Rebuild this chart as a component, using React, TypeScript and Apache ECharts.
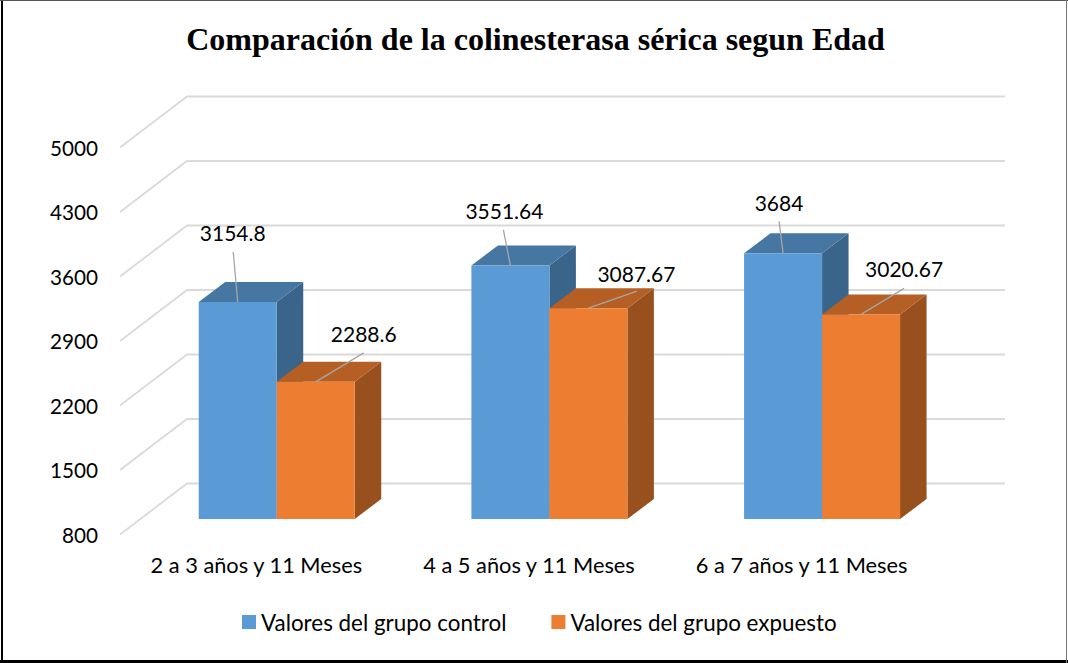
import React, { useEffect, useRef } from "react";
import * as echarts from "echarts";

const titleText = "Comparación de la colinesterasa sérica segun Edad";
const categories = ["2 a 3 años y 11 Meses", "4 a 5 años y 11 Meses", "6 a 7 años y 11 Meses"];
const controlName = "Valores del grupo control";
const exposedName = "Valores del grupo expuesto";
const controlValues = [3154.8, 3551.64, 3684];
const exposedValues = [2288.6, 3087.67, 3020.67];
const yTicks = [800, 1500, 2200, 2900, 3600, 4300, 5000];

// Label placement relative to the top centre of each bar's front face: [labelDx, labelDy, leaderDx, leaderDy]
const controlLabelOffsets = [
  [-5, -69.5, -4.5, -50],
  [-6, -55, -7, -35.5],
  [-4, -50.5, -4, -32],
];
const exposedLabelOffsets = [
  [48, -48.5, 48, -29],
  [48, -34.5, 48.5, -17],
  [43, -46, 43, -26],
];

const FONT = "Lato, 'Open Sans', sans-serif";
const WALL_DX = 67;
const WALL_DY = -51;
const BAR_SHIFT_X = 20.4;
const BAR_SHIFT_Y = -15.5;
const BAR_W = 78;
const DEPTH_X = 26.5;
const DEPTH_Y = -20;

function gridRender(params: any, api: any) {
  const cs = params.coordSys;
  const y = api.coord([0, api.value(1)])[1];
  return {
    type: "polyline",
    shape: {
      points: [
        [cs.x, y],
        [cs.x + WALL_DX, y + WALL_DY],
        [cs.x + cs.width + WALL_DX, y + WALL_DY],
      ],
    },
    style: { stroke: "#DADADA", lineWidth: 1.8, fill: "none" },
    silent: true,
  };
}

function barRender(side: -1 | 1, colors: string[], offsets: number[][]) {
  return (params: any, api: any) => {
    const i = api.value(0);
    const v = api.value(1);
    const [cx, ty] = api.coord([i, v]);
    const by = api.coord([i, 800])[1];
    const x0 = cx + BAR_SHIFT_X + (side < 0 ? -BAR_W : 0);
    const x1 = x0 + BAR_W;
    const top = ty + BAR_SHIFT_Y;
    const bot = by + BAR_SHIFT_Y;
    const mid = (x0 + x1) / 2;
    const o = offsets[params.dataIndex];
    return {
      type: "group",
      children: [
        {
          type: "polygon",
          shape: { points: [[x1, top], [x1 + DEPTH_X, top + DEPTH_Y], [x1 + DEPTH_X, bot + DEPTH_Y], [x1, bot]] },
          style: { fill: colors[2] },
        },
        {
          type: "polygon",
          shape: { points: [[x0, top], [x0 + DEPTH_X, top + DEPTH_Y], [x1 + DEPTH_X, top + DEPTH_Y], [x1, top]] },
          style: { fill: colors[1] },
        },
        { type: "rect", shape: { x: x0, y: top, width: BAR_W, height: bot - top }, style: { fill: colors[0] } },
        {
          type: "line",
          shape: { x1: mid + o[2], y1: top + o[3], x2: mid, y2: top },
          style: { stroke: "#A6A6A6", lineWidth: 1.3 },
        },
        {
          type: "text",
          style: {
            text: String(v),
            x: mid + o[0],
            y: top + o[1],
            align: "center",
            verticalAlign: "middle",
            fontFamily: FONT,
            fontSize: 21,
            fill: "#000000",
          },
        },
      ],
    };
  };
}

export default function App() {
  const ref = useRef<HTMLDivElement>(null);
  useEffect(() => {
    document.body.style.margin = "0";
    const chart = echarts.init(ref.current!, null, { renderer: "svg" });
    chart.setOption({
      animation: false,
      backgroundColor: "#FFFFFF",
      title: {
        text: titleText,
        left: 535.5,
        top: 23,
        padding: 0,
        textAlign: "center",
        textStyle: { fontFamily: "'Liberation Serif', serif", fontSize: 32, fontWeight: "bold", color: "#000000" },
      },
      grid: { left: 120, top: 147.5, width: 818, height: 387 },
      xAxis: {
        type: "category",
        data: categories,
        axisLine: { show: false },
        axisTick: { show: false },
        axisLabel: {
          fontFamily: FONT,
          fontSize: 21.8,
          color: "#000000",
          margin: 19,
          interval: 0,
          hideOverlap: false,
        },
      },
      yAxis: {
        type: "value",
        min: 800,
        max: 5000,
        interval: 700,
        axisLine: { show: false },
        axisTick: { show: false },
        splitLine: { show: false },
        axisLabel: {
          fontFamily: FONT,
          fontSize: 20.7,
          color: "#000000",
          margin: 22,
          formatter: (v: number) => String(v),
        },
      },
      legend: {
        left: 242,
        top: 611,
        padding: 0,
        itemWidth: 14,
        itemHeight: 14,
        itemGap: 45,
        icon: "rect",
        data: [controlName, exposedName],
        textStyle: { fontFamily: FONT, fontSize: 22.4, color: "#000000" },
      },
      graphic: [
        { type: "rect", shape: { x: 1, y: 0, width: 2, height: 663 }, style: { fill: "#000000" } },
        { type: "rect", shape: { x: 0, y: 660, width: 1068, height: 3 }, style: { fill: "#000000" } },
        { type: "rect", shape: { x: 0, y: 0, width: 1068, height: 1 }, style: { fill: "#555555" } },
        { type: "rect", shape: { x: 1066, y: 0, width: 1, height: 663 }, style: { fill: "#777777" } },
      ],
      series: [
        {
          type: "custom",
          name: "grid",
          silent: true,
          renderItem: gridRender,
          data: yTicks.map((v) => [0, v]),
          encode: { x: 0, y: 1 },
          z: 1,
        },
        {
          type: "custom",
          name: controlName,
          itemStyle: { color: "#5B9BD5" },
          renderItem: barRender(-1, ["#5B9BD5", "#4677A3", "#3B648A"], controlLabelOffsets),
          data: controlValues.map((v, i) => [i, v]),
          encode: { x: 0, y: 1 },
          z: 2,
        },
        {
          type: "custom",
          name: exposedName,
          itemStyle: { color: "#ED7D31" },
          renderItem: barRender(1, ["#ED7D31", "#B55F24", "#98501F"], exposedLabelOffsets),
          data: exposedValues.map((v, i) => [i, v]),
          encode: { x: 0, y: 1 },
          z: 3,
        },
      ],
    });
    return () => chart.dispose();
  }, []);
  return <div ref={ref} style={{ width: 1068, height: 663 }} />;
}
